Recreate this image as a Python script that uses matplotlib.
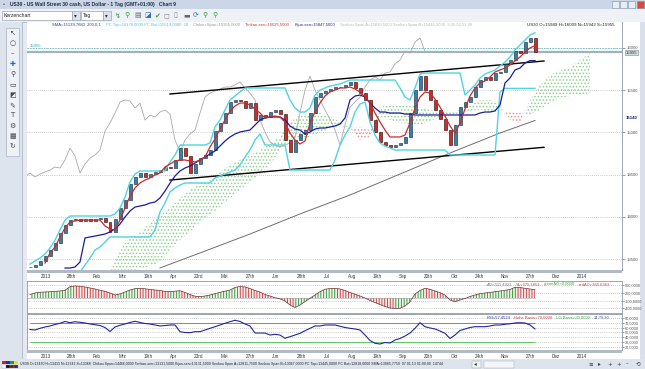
import numpy as np
import matplotlib
matplotlib.use("Agg")
import matplotlib.pyplot as plt
from matplotlib.patches import Rectangle
from matplotlib.transforms import blended_transform_factory

# US30 daily chart 2013.
# One value per period (about 2-3 trading days), period 0 = early January.
closes = [13408, 13431, 13479, 13538, 13609, 13692, 13810, 13904, 13963, 13975,
          13952, 13975, 13952, 13975, 13987, 13940, 13822, 13975, 14105, 14200,
          14389, 14472, 14519, 14472, 14507, 14531, 14554, 14590, 14578, 14673,
          14814, 14720, 14519, 14625, 14696, 14732, 14791, 15015, 15110, 15228,
          15358, 15382, 15370, 15287, 15346, 15145, 15204, 15181, 15240, 15264,
          15216, 14909, 14767, 14909, 14980, 15027, 15228, 15417, 15465, 15488,
          15512, 15535, 15535, 15559, 15595, 15524, 15465, 15382, 15145, 15004,
          14885, 14850, 14826, 14850, 14874, 14944, 15228, 15500, 15665, 15500,
          15382, 15264, 15157, 15027, 14850, 15086, 15299, 15358, 15417, 15535,
          15618, 15654, 15618, 15701, 15713, 15807, 15855, 15961, 15937, 16067,
          16115, 15955]

tenkan_start = 3
tenkan = [13455, 13573, 13644, 13763, 13869, 13940, 13952, 13963, 13963, 13963,
          13963, 13963, 13893, 13857, 13845, 13963, 14105, 14247, 14342, 14401,
          14436, 14460, 14495, 14519, 14590, 14625, 14661, 14673, 14673, 14661,
          14649, 14673, 14708, 14826, 14921, 15039, 15146, 15252, 15311, 15346,
          15346, 15323, 15276, 15228, 15169, 15181, 15193, 15181, 15122, 14992,
          14909, 14862, 14897, 15110, 15240, 15346, 15429, 15477, 15500, 15524,
          15524, 15536, 15512, 15477, 15417, 15346, 15228, 15122, 15027, 14945,
          14945, 14945, 14968, 15110, 15287, 15417, 15477, 15465, 15394, 15299,
          15193, 15075, 14992, 15110, 15276, 15429, 15524, 15583, 15607, 15654,
          15713, 15737, 15760, 15796, 15843, 15890, 15949, 15997, 16025.5]

kijun_start = 7
kijun = [13396, 13396, 13408, 13467, 13751, 13763, 13774, 13786, 13798, 13822,
         13857, 13916, 13999, 14070, 14117, 14129, 14141, 14164, 14176, 14224,
         14306, 14401, 14484, 14543, 14578, 14602, 14637, 14673, 14708, 14744,
         14779, 14838, 14897, 14945, 14980, 15004, 15016, 15027, 15086, 15146,
         15169, 15181, 15181, 15181, 15146, 15075, 15039, 15027, 14980, 15004,
         15039, 15051, 15051, 15063, 15075, 15098, 15169, 15382, 15429, 15441,
         15417, 15346, 15287, 15240, 15240, 15228, 15228, 15228, 15216, 15216,
         15205, 15205, 15205, 15205, 15205, 15205, 15205, 15205, 15205, 15205,
         15205, 15205, 15205, 15228, 15240, 15240, 15252, 15323, 15583, 15642,
         15737, 15760, 15819, 15847.5, 15847.5]

pc_top = [13443, 13479, 13514, 13562, 13632, 13727, 13845, 13963, 14011, 14011,
          14011, 14011, 14011, 14011, 14011, 14011, 14011, 14034, 14105, 14235,
          14413, 14507, 14543, 14543, 14543, 14543, 14543, 14543, 14649, 14732,
          14850, 14850, 14850, 14850, 14850, 14850, 14874, 15063, 15146, 15264,
          15382, 15429, 15477, 15524, 15524, 15524, 15524, 15524, 15524, 15524,
          15524, 15524, 15382, 15287, 15240, 15240, 15287, 15441, 15500, 15524,
          15547, 15559, 15571, 15595, 15618, 15618, 15618, 15618, 15618, 15618,
          15618, 15618, 15618, 15618, 15524, 15417, 15382, 15524, 15689, 15701,
          15701, 15701, 15701, 15701, 15701, 15701, 15701, 15441, 15500, 15559,
          15642, 15689, 15713, 15737, 15784, 15831, 15890, 15973, 16032, 16091,
          16150, 16176]

pc_bot_start = 10
pc_bot = [13349, 13432, 13514, 13609, 13644, 13703, 13763, 13763, 13763, 13763,
          13763, 13763, 13763, 13763, 13763, 13845, 14058, 14164, 14295, 14342,
          14377, 14401, 14401, 14401, 14401, 14401, 14401, 14460, 14484, 14507,
          14531, 14554, 14614, 14708, 14791, 14909, 14980, 14850, 14850, 14850,
          14850, 14850, 14554, 14554, 14554, 14554, 14554, 14554, 14554, 14554,
          14554, 14673, 14850, 14968, 15063, 15240, 15335, 15358, 15122, 14968,
          14874, 14838, 14815, 14791, 14791, 14791, 14791, 14791, 14791, 14791,
          14791, 14791, 14791, 14791, 14732, 14732, 14732, 14732, 14732, 14732,
          14732, 14732, 14732, 14732, 15477, 15519, 15519, 15519, 15519, 15519,
          15519, 15519]

sma_idx = [26, 34, 44, 54, 64, 74, 84, 94, 101]
sma200 = [13397, 13574, 13798, 14035, 14259, 14507, 14755, 14992, 15140]

# Senkou spans, already shifted forward, one value every 2 periods from period 16
cloud_start, cloud_step = 16, 2
span_a = [13349, 13609, 13763, 13822, 13928, 14034, 14105, 14224, 14318, 14401,
          14436, 14531, 14614, 14673, 14732, 14791, 14874, 14945, 15122, 15205,
          15228, 15228, 15193, 15122, 15051, 14909, 14945, 15299, 15323, 15323,
          15323, 15299, 15264, 15240, 15240, 15264, 15323, 15382, 15382, 15323,
          15146, 15110, 15382, 15559, 15677, 15737, 15760, 15855, 15937]
span_b = [13302, 13349, 13361, 13384, 13420, 13467, 13609, 13727, 13822, 13940,
          14023, 14117, 14224, 14318, 14413, 14507, 14614, 14791, 14909, 14933,
          14945, 15004, 15051, 15075, 15051, 15063, 15027, 15181, 15146, 15110,
          15098, 15086, 15134, 15169, 15205, 15228, 15252, 15264, 15240, 15264,
          15240, 15228, 15205, 15264, 15346, 15406, 15429, 15441, 15465]
chikou_lag = 22

# trend channel anchors (period, price)
chan_idx = [28, 102.8]
chan_upper = [15453, 15843]
chan_lower = [14436, 14823]
last_price = 15955

ao = [137, 195, 222, 234, 246, 261, 273, 300, 441, 468,
      456, 429, 390, 351, 300, 261, 195, 117, 156, 234,
      312, 363, 378, 359, 332, 312, 293, 254, 246, 265,
      285, 215, 137, 70, 55, 78, 117, 168, 222, 265,
      312, 410, 449, 429, 371, 293, 234, 137, 78, 12,
      -35, -117, -273, -371, -273, -137, -12, 117, 246, 339,
      371, 378, 351, 293, 215, 148, 78, 0, -98, -176,
      -254, -332, -390, -410, -402, -312, -156, 156, 293, 378,
      339, 273, 207, 117, -78, -144, -78, -20, 59, 117,
      168, 195, 215, 246, 273, 300, 332, 417, 410, 378,
      351, 321]

rsi = [56.3, 55.3, 58.8, 61.6, 63.7, 66.8, 69.4, 73.2, 70.6, 72.7,
       71.5, 70.0, 67.9, 66.4, 64.7, 60.5, 52.1, 61.6, 65.2, 67.9,
       71.1, 73.6, 71.1, 68.9, 67.9, 65.8, 63.7, 64.7, 65.8, 65.8,
       51.7, 50.0, 49.6, 51.7, 51.7, 55.3, 58.8, 62.2, 65.8, 69.4,
       72.7, 75.7, 73.2, 67.9, 63.7, 48.9, 48.9, 48.9, 44.7, 46.2,
       44.7, 37.8, 41.2, 44.7, 48.3, 53.6, 58.8, 63.7, 63.7, 65.8,
       65.8, 65.8, 63.1, 60.5, 58.8, 57.4, 55.3, 44.7, 33.2, 27.3,
       25.8, 29.0, 27.9, 34.2, 37.4, 42.6, 48.9, 58.8, 70.6, 62.2,
       59.5, 57.4, 53.2, 48.3, 37.4, 44.7, 54.2, 57.4, 60.5, 62.2,
       62.2, 62.2, 63.7, 65.8, 65.8, 67.3, 68.3, 70.0, 70.6, 70.0,
       65.8, 57.5]
rsi_high, rsi_low = 70, 30

date_labels = ["2013", "28th", "Feb", "Mrz", "19th", "Apr", "23rd", "Mai", "27th",
               "Jun", "28th", "Jul", "Aug", "19th", "Sep", "20th", "Okt", "24th",
               "Nov", "27th", "Dez", "2014"]
price_ticks = [13500, 14000, 14500, 15000, 15500, 16000]
ao_ticks = [500, 200, -100, -400]
rsi_ticks = [80, 70, 60, 50, 40, 30, 20]

plt.rcParams["font.family"] = ["Liberation Sans", "DejaVu Sans"]
plt.rcParams["hatch.linewidth"] = 0.7
FS = 3.1

W, H = 645, 369
fig = plt.figure(figsize=(W / 100, H / 100), dpi=100)
fig.patch.set_facecolor("#d9e0ea")


def box(x, y, w, h, fc, ec="none", lw=0.5, z=0):
    fig.add_artist(Rectangle((x / W, 1 - (y + h) / H), w / W, h / H,
                             transform=fig.transFigure, facecolor=fc,
                             edgecolor=ec, linewidth=lw, zorder=z))


def label(x, y, s, **kw):
    kw.setdefault("fontsize", FS)
    kw.setdefault("va", "center")
    return fig.text(x / W, 1 - y / H, s, **kw)


def chain(x, y, pieces, fs=FS, gap=3.5):
    # coloured text pieces one after another
    r = fig.canvas.get_renderer()
    for s, col in pieces:
        t = label(x, y, s, color=col, fontsize=fs)
        x = t.get_window_extent(r).x1 + gap


# window chrome
box(0, 0, W, 9, "#cbd6e6")
label(3, 4.5, "▪", color="#5070a0", fontsize=4)
label(10, 4.5, "US30 - US Wall Street 30 cash, US Dollar - 1 Tag (GMT+01:00)   Chart 9",
      color="#1d2b45", fontsize=3.6, fontweight="bold")
for bx, fc in [(612, "#e8edf3"), (620, "#e8edf3"), (628, "#e8edf3"), (637, "#d84a3a")]:
    box(bx, 1, 7, 6.5, fc, ec="#8090a8", lw=0.4)
box(0, 9, W, 13, "#eef1f5")
box(2, 11, 70, 9, "white", ec="#9aa4b4")
label(4, 15.5, "Kerzenchart", color="#202020", fontsize=3.6)
box(72, 11, 8, 9, "#dfe4ec", ec="#9aa4b4")
label(74, 15.5, "▾", color="#303030", fontsize=4)
box(81, 11, 22, 9, "white", ec="#9aa4b4")
label(83, 15.5, "Tag", color="#202020", fontsize=3.6)
box(103, 11, 8, 9, "#dfe4ec", ec="#9aa4b4")
label(105, 15.5, "▾", color="#303030", fontsize=4)
for k, (g, c) in enumerate([("↯", "#3a9a3a"), ("⚲", "#3a9a3a"), ("▤", "#607080"),
                            ("◪", "#2a6ac0"), ("✔", "#3a9a3a"), ("◻", "#808890"),
                            ("▯", "#808890"), ("▬", "#606870"), ("⟳", "#2a7ad0"),
                            ("⚲", "#3a9a3a"), ("⚲", "#3a9a3a")]):
    label(115 + 9.7 * k, 15.5, g, color=c, fontsize=5, family="DejaVu Sans")

box(0, 22, 22, 337, "#dde4ee")
box(6, 28, 13, 128, "#eef1f6", ec="#a8b2c2")
for k, g in enumerate(["↖", "○", "–", "✚", "⚲", "▭", "◩", "✎", "T", "⚙", "▦", "↻"]):
    label(12.5, 33 + 10.3 * k, g, ha="center", fontsize=5, family="DejaVu Sans",
          color="#2a6ac0" if g == "✚" else "#404850")
box(22, 22, 5, 337, "#e6eaf0", ec="#9aa4b4", lw=0.4)
box(27, 22, 613, 337, "white")
box(0, 359, W, 10, "#dde4ee")
for k, c in enumerate(["#d42020", "#2030c0", "#20a030", "#e8e020"]):
    box(2 + 4 * k, 360.5, 4, 3.5, c)
for k, c in enumerate(["white", "#101010", "#801010", "#303030"]):
    box(2 + 4 * k, 364.5, 4, 3.5, c, ec="#909090", lw=0.2)
label(20, 364.5, "US30 O=13430 H=13433 N=13342 S=13368  Chikou Span=14466,0000 "
      "Tenkan-sen=13131,5000 Kijun-sen=13131,5000 Senkou Span A=12811,7500 "
      "Senkou Span B=13067,0000 PC Top=13445,0000 PC Bot=12818,0000 "
      "SMA=13085,7750  07.01.13 01:00:00  14744", color="#202020", fontsize=2.55)
box(472, 360.5, 9, 7, "#eef1f5", ec="#9aa4b4", lw=0.3)
label(474, 364, "◂", color="#303848", fontsize=4, family="DejaVu Sans")
box(484, 360.5, 30, 7, "#f4f6f9", ec="#9aa4b4", lw=0.3)
for k, g in enumerate(["≡", "▸", "+", "+", "–", "⟲"]):
    label(588 + 9.5 * k, 364, g, color="#303848", fontsize=4, family="DejaVu Sans")

# axes
ax = fig.add_axes([27 / W, 1 - 270 / H, 595 / W, 248 / H])
ao_ax = fig.add_axes([27 / W, 1 - 313 / H, 595 / W, 32 / H])
rsi_ax = fig.add_axes([27 / W, 1 - 350 / H, 595 / W, 36 / H])
box(27, 269.5, 595, 3, "#b4bac4", z=5)
box(27, 350, 595, 3, "#b4bac4", z=5)

idx = np.arange(len(closes))
xlo, xhi = -0.6, 118.4
tick_pos = 3.2 + 5.1 * np.arange(len(date_labels))
grid_kw = dict(color="#9a9a9a", linestyle=(0, (1, 2)), linewidth=0.5)

for a in (ax, ao_ax, rsi_ax):
    a.set_xlim(xlo, xhi)
    a.set_facecolor("white")
    a.yaxis.tick_right()
    a.tick_params(axis="y", labelsize=FS, length=2, width=0.4, pad=1.0,
                  colors="#555555")
    a.tick_params(axis="x", labelsize=3.3, length=0, pad=3, colors="#333333")
    for sp in a.spines.values():
        sp.set_color("#8e96a2")
        sp.set_linewidth(0.6)
    a.grid(axis="y", **grid_kw)
    a.set_axisbelow(True)
for a in (ao_ax, rsi_ax):
    a.tick_params(axis="y", labelsize=2.8, length=1.5, pad=0.8)

# main panel
ax.set_ylim(13372.6, 16304)
ax.set_yticks(price_ticks)
ax.set_yticklabels([str(v) for v in price_ticks])
ax.set_xticks(tick_pos)
ax.set_xticklabels(date_labels)
ax.spines["top"].set_visible(False)
ax.spines["left"].set_visible(False)

a_arr, b_arr = np.array(span_a), np.array(span_b)
cx = cloud_start + cloud_step * np.arange(len(span_a))
ax.fill_between(cx, a_arr, b_arr, where=a_arr >= b_arr, interpolate=True,
                facecolor="none", edgecolor="#8fd08f", hatch=".....", linewidth=0, zorder=1)
ax.fill_between(cx, a_arr, b_arr, where=a_arr < b_arr, interpolate=True,
                facecolor="none", edgecolor="#e49494", hatch=".....", linewidth=0, zorder=1)

ax.plot(sma_idx, sma200, color="#6e6e6e", lw=0.7, zorder=2)
ax.plot(idx - chikou_lag, closes, color="#a9a9a9", lw=0.6, zorder=2)
ax.plot(chan_idx, chan_upper, color="black", lw=1.0, zorder=2)
ax.plot(chan_idx, chan_lower, color="black", lw=1.0, zorder=2)
ax.axhline(last_price, color="#9fb3b8", lw=1.6, zorder=1)
ax.axhline(16000, color="#40b8b8", lw=0.5, linestyle=(0, (2, 2)), zorder=1)

c = np.array(closes, dtype=float)
o = np.r_[c[0], c[:-1]]
up = c >= o
ax.bar(idx[up], (c - o)[up], bottom=o[up], width=0.6, color="#3d7ea2",
       edgecolor="#1b3546", linewidth=0.45, zorder=3)
ax.bar(idx[~up], (o - c)[~up], bottom=c[~up], width=0.6, color="#c92e2e",
       edgecolor="#3a1010", linewidth=0.45, zorder=3)

ax.plot(idx, pc_top, color="#4fd4e2", lw=1.0, zorder=4)
ax.plot(np.arange(len(pc_bot)) + pc_bot_start, pc_bot, color="#4fd4e2", lw=1.0, zorder=4)
ax.plot(np.arange(len(kijun)) + kijun_start, kijun, color="#1c1c9c", lw=0.9, zorder=4)
ax.plot(np.arange(len(tenkan)) + tenkan_start, tenkan, color="#cc2a2a", lw=0.9, zorder=4)

yt = blended_transform_factory(ax.transAxes, ax.transData)
ax.text(1.006, last_price - 15, str(last_price), transform=yt, fontsize=FS, va="center",
        color="#303030", bbox=dict(fc="#d4dcdc", ec="#7a8a8a", lw=0.4, pad=0.3))
ax.text(1.006, sma200[-1] + 25, "15140", transform=yt, fontsize=FS, va="center",
        color="#1c1c8c", fontweight="bold")
ax.text(0.004, 16000, str(last_price), transform=yt, fontsize=FS, va="bottom",
        color="#30b0b0")

chain(52, 25, [("SMA=15139,7680  200,0,1", "#2b3a8c"),
               ("PC Top=16176,0000 PC Bot=15519,0000  20", "#3cc8d8"),
               ("Chikou Span=15955,0000", "#9a9a9a"),
               ("Tenkan-sen=16025,5000", "#d03030"),
               ("Kijun-sen=15847,5000", "#2020a0"),
               ("Senkou Span A=15830,5000 Senkou Span B=15445,5000  9,26,52,52,26", "#b8b8b8")],
      fs=3.0, gap=5)
label(527, 25, "US30 O=15989 H=16009 N=15942 S=15955", color="#202020", fontsize=3.2)

# AO panel
ao_arr = np.array(ao, dtype=float)
ao_ax.set_ylim(-584, 662)
ao_ax.set_yticks(ao_ticks)
ao_ax.set_yticklabels([f"{v},0000" for v in ao_ticks])
ao_ax.set_xticks([])
for i in range(1, len(ao_arr)):
    rising = ao_arr[i] >= ao_arr[i - 1]
    ao_ax.fill_between(idx[i - 1:i + 1], 0, ao_arr[i - 1:i + 1],
                       facecolor="#eef6ee" if rising else "#f8eaea",
                       edgecolor="#3f9a3f" if rising else "#c84848",
                       hatch="||||||", linewidth=0, zorder=1)
ao_ax.plot(idx, ao_arr, color="#6a3030", lw=0.5, zorder=2)
ao_ax.axhline(0, xmax=(idx[-1] - xlo) / (xhi - xlo), color="#a0a0a0", lw=0.4, zorder=1)
chain(487, 284.5, [("AO=321,4921", "#8a6a9a"), ("SL=375,1853", "#d04040"),
                   ("greenAO=0,0000", "#40a040"), ("redAO=365,6363", "#d04040")], fs=3.0)

# RSI panel
rsi_ax.set_ylim(13.2, 88.9)
rsi_ax.set_yticks(rsi_ticks)
rsi_ax.set_yticklabels([f"{v},0000" for v in rsi_ticks])
rsi_ax.set_xticks(tick_pos)
rsi_ax.set_xticklabels(date_labels)
rsi_ax.hlines(rsi_high, idx[0], idx[-1], color="#d05050", lw=0.6, zorder=1)
rsi_ax.hlines(rsi_low, idx[0], idx[-1], color="#50c050", lw=0.6, zorder=1)
rsi_ax.plot(idx, rsi, color="#24249e", lw=0.8, zorder=2)
chain(487, 318, [("RSI=57,4524", "#3030b0"), ("Hohe Basis=70,0000", "#d04040"),
                 ("LG Basis=30,0000", "#40b040"), ("14,70,30", "#5060a0")], fs=3.0)

fig.savefig("out.png", dpi=100, facecolor=fig.get_facecolor())
